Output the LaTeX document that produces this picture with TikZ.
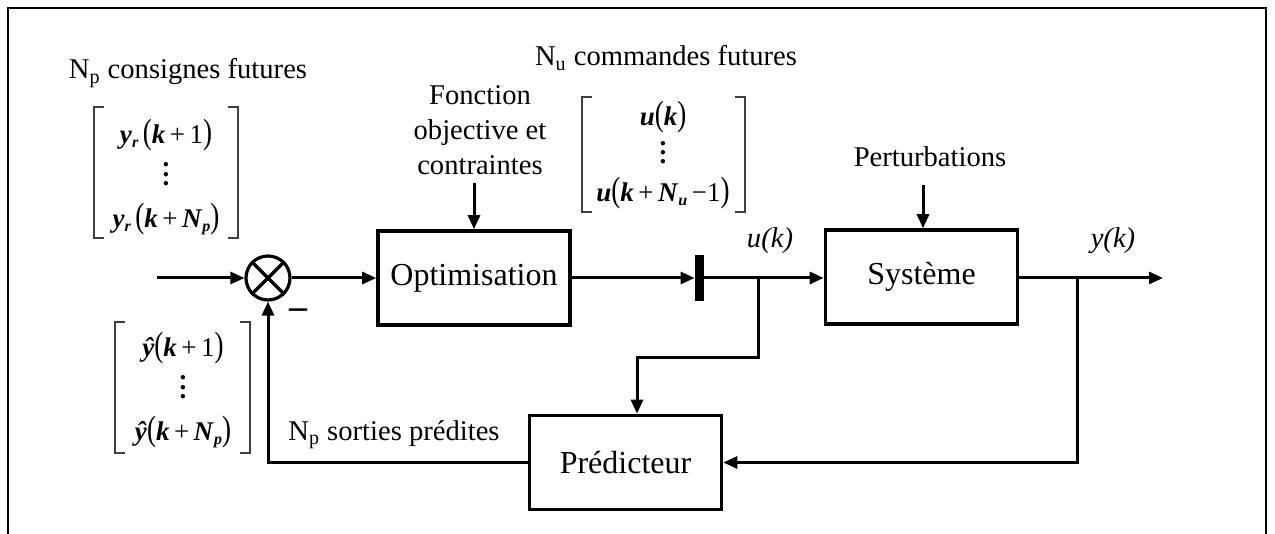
\documentclass[tikz,border=0pt]{standalone}
\usepackage{fontspec}
\setmainfont{Liberation Serif}
\usepackage{graphicx}
\usetikzlibrary{arrows.meta,calc}

\newcommand{\bi}[1]{\textbf{\textit{#1}}}
\newcommand{\lpar}{\scalebox{1}[1.3]{(}}
\newcommand{\rpar}{\scalebox{1}[1.3]{)}}
\newcommand{\sub}[1]{\raisebox{-0.35ex}{\fontsize{8}{8}\selectfont\bi{#1}}}
\newcommand{\stackdots}{\vbox{\baselineskip=4.6pt\lineskiplimit=-10pt
  \hbox{\bfseries.}\hbox{\bfseries.}\hbox{\bfseries.}}}
\newcommand{\labelfont}{\fontsize{14.3}{17.5}\selectfont}
\newcommand{\boxfont}{\fontsize{16}{19}\selectfont}

\tikzset{
  wire/.style={line width=1.5pt, line join=miter},
  flow/.style={wire, -{Triangle[length=7pt,width=6pt]}},
  block/.style={draw, line width=1.8pt, minimum width=96pt, minimum height=47pt,
                inner sep=0pt, font=\boxfont},
  lbl/.style={inner sep=0pt, font=\labelfont, align=center},
  vector/.style={inner sep=0pt, align=center, font=\fontsize{13.5}{#1}\selectfont},
  vector/.default=21pt,
  bracket/.style={line width=0.9pt, draw=black!75},
}

\begin{document}
\begin{tikzpicture}[x=0.5pt, y=-0.5pt]
\useasboundingbox (0,0) rectangle (1275,534);

% outer frame, open at the bottom
\draw[line width=1.2pt] (8,534) -- (8,8) -- (1266,8) -- (1266,534);

% blocks
\node[block] (opt)  at (474,278)   {Optimisation};
\node[block] (sys)  at (921.5,277) {Système};
\node[block] (pred) at (625.5,462.5) {Prédicteur};

% summing junction
\node[draw, circle, line width=1.6pt, minimum size=22pt, inner sep=0pt] (sum) at (268,278) {};
\draw[line width=1.6pt] (sum.north west) -- (sum.south east)
                        (sum.north east) -- (sum.south west);
\node[inner sep=0pt, font=\fontsize{18}{18}\selectfont\bfseries] (minus) at (298,314) {–};

% sample-and-hold bar
\node[fill=black, minimum width=4.5pt, minimum height=23pt, inner sep=0pt] (bar) at (699.5,278) {};

% free ends and branch points
\coordinate (in)   at (157,278);
\coordinate (out)  at (1163,278);
\coordinate (bu)   at (758,278);
\coordinate (bu2)  at (758,358);
\coordinate (bu3)  at (637,358);
\coordinate (by)   at (1077,278);
\coordinate (fobj) at (474,183);
\coordinate (pert) at (923,185);

% texts
\node[lbl] (cons) at (188,73)  {N\textsubscript{p} consignes futures};
\node[lbl] (cmd)  at (666,58)  {N\textsubscript{u} commandes futures};
\node[lbl] (fct)  at (480,130) {Fonction\\objective et\\contraintes};
\node[lbl] (pl)   at (930,157) {Perturbations};
\node[lbl] (sort) at (394,435) {N\textsubscript{p} sorties prédites};
\node[lbl, font=\labelfont\itshape] (uk) at (770,241) {u(k)};
\node[lbl, font=\labelfont\itshape] (yk) at (1113,241) {y(k)};

% vector of future set points
\node[vector] (ref) at (166,177)
  {\bi{y}\sub{r}\,\lpar\bi{k}\,+\,1\rpar\\ \stackdots\\ \bi{y}\sub{r}\,\lpar\bi{k}\,+\,\bi{N}\sub{p}\rpar};
\draw[bracket] (104,107) -- (94,107) -- (94,238) -- (104,238);
\draw[bracket] (228,107) -- (238,107) -- (238,238) -- (228,238);

% vector of predicted outputs
\node[vector] (prd) at (183,390)
  {\bi{ŷ}\lpar\bi{k}\,+\,1\rpar\\ \stackdots\\ \bi{ŷ}\lpar\bi{k}\,+\,\bi{N}\sub{p}\rpar};
\draw[bracket] (125,322) -- (115,322) -- (115,453) -- (125,453);
\draw[bracket] (240,322) -- (250,322) -- (250,453) -- (240,453);

% vector of future commands
\node[vector=19pt] (cmdv) at (663,155)
  {\bi{u}\lpar\bi{k}\rpar\\ \stackdots\\ \bi{u}\lpar\bi{k}\,+\,\bi{N}\sub{u}\,−1\rpar};
\draw[bracket] (592,97) -- (582,97) -- (582,212) -- (592,212);
\draw[bracket] (735,97) -- (745,97) -- (745,212) -- (735,212);

% connections
\draw[flow] (in) -- (sum.west);
\draw[flow] (sum.east) -- (opt.west);
\draw[flow] (opt.east) -- (bar.west);
\draw[flow] (bar.east) -- (bar.east -| sys.west);
\draw[flow] (sys.east |- out) -- (out);
\draw[flow] (fobj) -- (opt.north);
\draw[flow] (pert) -- (pert |- sys.north);
\draw[flow] (bu) -- (bu2) -- (bu3) -- (bu3 |- pred.north);
\draw[flow] (by) |- (pred.east);
\draw[flow] (pred.west) -| (sum.south);
\end{tikzpicture}
\end{document}
